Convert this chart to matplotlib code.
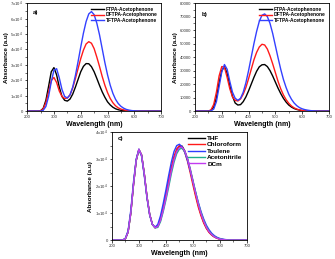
import numpy as np
import matplotlib
matplotlib.use('Agg')
import matplotlib.pyplot as plt
from matplotlib.ticker import FuncFormatter, AutoMinorLocator

plt.rcParams['font.family'] = ['Liberation Sans', 'DejaVu Sans']

# wavelength grid (nm), 200..700 every 10 nm
wl = np.arange(200, 710, 10)

# panel a, absorbance in units of 1e4
a_names = ['FTPA-Acetophenone', 'DFTPA-Acetophenone', 'TFTPA-Acetophenone']
a_ftpa = [0, 0, 0, 0, 0, 0.02, 0.18, 0.7, 1.6, 2.55,
          2.82, 2.35, 1.55, 0.95, 0.7, 0.65, 0.78, 1.1, 1.55, 2.05,
          2.55, 2.9, 3.08, 3.07, 2.88, 2.55, 2.12, 1.67, 1.25, 0.9,
          0.6, 0.4, 0.25, 0.15, 0.09, 0.05, 0.03, 0.015, 0.008, 0.004,
          0, 0, 0, 0, 0, 0, 0, 0, 0, 0,
          0]
a_dftpa = [0, 0, 0, 0, 0, 0.02, 0.14, 0.55, 1.25, 1.98,
           2.18, 1.85, 1.3, 0.95, 0.82, 0.85, 1.05, 1.5, 2.1, 2.75,
           3.4, 3.95, 4.35, 4.5, 4.4, 4.05, 3.5, 2.9, 2.25, 1.68,
           1.2, 0.82, 0.54, 0.34, 0.21, 0.13, 0.08, 0.045, 0.025, 0.013,
           0.006, 0.003, 0, 0, 0, 0, 0, 0, 0, 0,
           0]
a_tftpa = [0, 0, 0, 0, 0, 0, 0.05, 0.3, 0.95, 1.9,
           2.65, 2.75, 2.15, 1.4, 0.95, 0.85, 1.05, 1.55, 2.3, 3.2,
           4.15, 5.05, 5.8, 6.3, 6.45, 6.25, 5.7, 4.95, 4.05, 3.15,
           2.35, 1.68, 1.15, 0.76, 0.49, 0.31, 0.19, 0.11, 0.065, 0.035,
           0.018, 0.008, 0.003, 0, 0, 0, 0, 0, 0, 0,
           0]

# panel b, raw absorbance
b_ftpa = [0, 0, 0, 0, 0, 0, 500, 3000, 10000, 21000,
          30000, 33000, 28000, 19000, 11000, 6000, 4500, 4800, 7000, 10500,
          15000, 20000, 25000, 29500, 32800, 34300, 34500, 33000, 30000, 26000,
          21500, 17000, 13000, 9500, 6700, 4500, 3000, 1900, 1200, 700,
          400, 200, 100, 0, 0, 0, 0, 0, 0, 0,
          0]
b_dftpa = [0, 0, 0, 0, 0, 0, 1000, 5000, 14000, 26000,
           33000, 32500, 25000, 16500, 10500, 8000, 7500, 9000, 12500, 17500,
           24000, 31000, 38000, 43500, 47500, 49500, 49000, 46000, 41000, 35000,
           28500, 22000, 16500, 12000, 8500, 5800, 3800, 2400, 1500, 900,
           500, 300, 150, 0, 0, 0, 0, 0, 0, 0,
           0]
b_tftpa = [0, 0, 0, 0, 0, 0, 200, 1500, 7000, 18000,
           29000, 34500, 31000, 22000, 14000, 9500, 8000, 9500, 14000, 21000,
           30000, 40000, 50000, 59000, 66500, 71000, 72000, 70000, 65000, 57500,
           48500, 39500, 31000, 23500, 17500, 12500, 8800, 6000, 4000, 2600,
           1700, 1100, 700, 400, 200, 100, 0, 0, 0, 0,
           0]

# panel c, solvents, units of 1e4
c_names = ['THF', 'Chloroform', 'Toulene', 'Acetonitrile', 'DCm']
c_thf = [0, 0, 0, 0, 0, 0.05, 0.3, 1.0, 2.05, 2.95,
         3.35, 3.15, 2.45, 1.6, 0.95, 0.58, 0.46, 0.5, 0.75, 1.15,
         1.6, 2.1, 2.6, 3.0, 3.3, 3.47, 3.48, 3.3, 3.0, 2.6,
         2.15, 1.7, 1.3, 0.95, 0.67, 0.45, 0.3, 0.19, 0.12, 0.07,
         0.04, 0.02, 0.01, 0, 0, 0, 0, 0, 0, 0,
         0]
c_chcl3 = [0, 0, 0, 0, 0, 0.05, 0.3, 1.0, 2.05, 2.95,
           3.36, 3.15, 2.45, 1.6, 0.95, 0.58, 0.46, 0.52, 0.8, 1.22,
           1.7, 2.2, 2.7, 3.1, 3.38, 3.5, 3.45, 3.25, 2.92, 2.5,
           2.05, 1.62, 1.22, 0.9, 0.63, 0.43, 0.28, 0.18, 0.11, 0.065,
           0.035, 0.018, 0.008, 0, 0, 0, 0, 0, 0, 0,
           0]
c_tol = [0, 0, 0, 0, 0, 0.07, 0.35, 1.1, 2.15, 3.0,
         3.37, 3.1, 2.38, 1.55, 0.92, 0.58, 0.48, 0.58, 0.9, 1.35,
         1.85, 2.38, 2.88, 3.28, 3.5, 3.55, 3.45, 3.25, 2.95, 2.58,
         2.18, 1.78, 1.4, 1.06, 0.78, 0.55, 0.38, 0.25, 0.16, 0.1,
         0.06, 0.035, 0.02, 0.01, 0, 0, 0, 0, 0, 0,
         0]
c_mecn = [0, 0, 0, 0, 0, 0.05, 0.3, 1.0, 2.05, 2.95,
          3.35, 3.15, 2.45, 1.6, 0.95, 0.58, 0.45, 0.47, 0.68, 1.05,
          1.48, 1.95, 2.45, 2.88, 3.2, 3.37, 3.4, 3.28, 3.02, 2.65,
          2.22, 1.78, 1.37, 1.02, 0.73, 0.5, 0.33, 0.21, 0.13, 0.08,
          0.045, 0.024, 0.012, 0, 0, 0, 0, 0, 0, 0,
          0]
c_dcm = [0, 0, 0, 0, 0, 0.05, 0.3, 1.0, 2.05, 2.95,
         3.36, 3.15, 2.45, 1.6, 0.95, 0.58, 0.46, 0.5, 0.73, 1.1,
         1.55, 2.05, 2.55, 2.97, 3.28, 3.43, 3.44, 3.3, 3.02, 2.62,
         2.18, 1.74, 1.34, 0.98, 0.7, 0.47, 0.31, 0.2, 0.12, 0.07,
         0.04, 0.02, 0.01, 0, 0, 0, 0, 0, 0, 0,
         0]

a_cols = ['black', '#ff1a1a', '#3340ff']
c_cols = ['black', '#ff1a1a', '#2e3dff', '#1fae8c', '#c23cf0']

TICK = 3.1
LAB = 5.0


def pow_fmt(v, pos):
    if v == 0:
        return '0'
    return '%dx10$^4$' % int(round(v))


def style(ax, ymax, ystep):
    ax.set_xlim(200, 700)
    ax.set_ylim(0, ymax)
    ax.set_xticks(np.arange(200, 701, 100))
    ax.set_yticks(np.arange(0, ymax + ystep / 2, ystep))
    ax.xaxis.set_minor_locator(AutoMinorLocator(2))
    ax.yaxis.set_minor_locator(AutoMinorLocator(2))
    ax.tick_params(which='major', labelsize=TICK, length=1.8, width=0.5, pad=1.2,
                   labelcolor='#333333')
    ax.tick_params(which='minor', length=1.1, width=0.4)
    for s in ax.spines.values():
        s.set_linewidth(0.6)
    ax.set_xlabel('Wavelength (nm)', fontsize=LAB, fontweight='bold', labelpad=1)
    ax.set_ylabel('Absorbance (a.u)', fontsize=LAB - 0.5, fontweight='bold', labelpad=1)


fig = plt.figure(figsize=(3.35, 2.59), dpi=100)

# a)
ax1 = fig.add_axes([0.081, 0.571, 0.40, 0.417])
for y, n, c in zip([a_ftpa, a_dftpa, a_tftpa], a_names, a_cols):
    ax1.plot(wl, y, color=c, lw=1.0, label=n)
style(ax1, 7, 1)
ax1.yaxis.set_major_formatter(FuncFormatter(pow_fmt))
ax1.text(0.045, 0.9, 'a)', transform=ax1.transAxes, fontsize=4.5, fontweight='bold')
ax1.legend(loc='upper right', bbox_to_anchor=(1.0, 1.0), frameon=False,
           prop={'size': 3.5, 'weight': 'bold'}, handlelength=2.6,
           handletextpad=0.4, labelspacing=0.15, borderpad=0.2)

# b)
ax2 = fig.add_axes([0.582, 0.571, 0.40, 0.417])
for y, n, c in zip([b_ftpa, b_dftpa, b_tftpa], a_names, a_cols):
    ax2.plot(wl, y, color=c, lw=1.0, label=n)
style(ax2, 80000, 10000)
ax2.text(0.05, 0.88, 'b)', transform=ax2.transAxes, fontsize=4.5, fontweight='bold')
ax2.legend(loc='upper right', bbox_to_anchor=(1.0, 1.0), frameon=False,
           prop={'size': 3.5, 'weight': 'bold'}, handlelength=2.6,
           handletextpad=0.4, labelspacing=0.15, borderpad=0.2)

# c)
ax3 = fig.add_axes([0.334, 0.073, 0.403, 0.417])
for y, n, c in zip([c_thf, c_chcl3, c_tol, c_mecn, c_dcm], c_names, c_cols):
    ax3.plot(wl, y, color=c, lw=1.0, label=n)
style(ax3, 4, 1)
ax3.yaxis.set_major_formatter(FuncFormatter(pow_fmt))
ax3.text(0.04, 0.93, 'c)', transform=ax3.transAxes, fontsize=4.5, fontweight='bold')
ax3.legend(loc='upper right', bbox_to_anchor=(1.0, 1.01), frameon=False,
           prop={'size': 4.6, 'weight': 'bold'}, handlelength=2.6,
           handletextpad=0.4, labelspacing=0.15, borderpad=0.2)

fig.savefig('out.png', dpi=100)
